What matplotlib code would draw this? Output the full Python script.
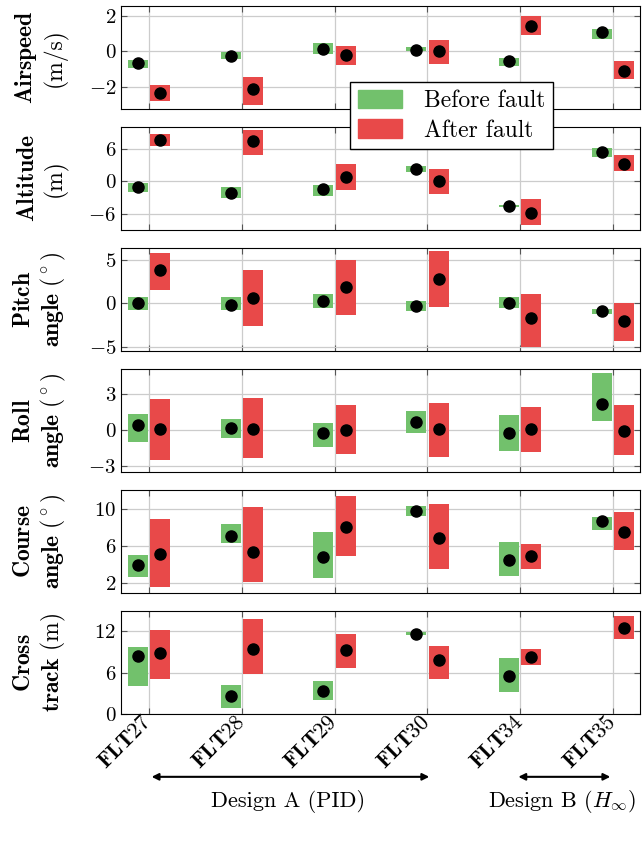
import numpy as np
import matplotlib
matplotlib.use('Agg')
import matplotlib.pyplot as plt
from matplotlib.patches import Patch

plt.rcParams['font.family'] = 'serif'
plt.rcParams['font.serif'] = ['cmr10']
plt.rcParams['mathtext.fontset'] = 'cm'
plt.rcParams['axes.formatter.use_mathtext'] = True
plt.rcParams['axes.unicode_minus'] = True

flights = ['FLT27', 'FLT28', 'FLT29', 'FLT30', 'FLT34', 'FLT35']

# each: [low, high, mean] per flight
airspeed_before = [[-0.93, -0.41, -0.13, 0.0, -0.80, 0.69],
                   [-0.46, -0.04, 0.48, 0.22, -0.35, 1.24],
                   [-0.65, -0.26, 0.15, 0.09, -0.56, 1.07]]
airspeed_after = [[-2.76, -3.02, -0.76, -0.69, 0.91, -1.52],
                  [-1.89, -1.43, 0.30, 0.65, 2.0, -0.56],
                  [-2.35, -2.11, -0.19, 0.04, 1.43, -1.07]]

altitude_before = [[-1.97, -3.14, -2.77, 1.78, -4.7, 4.5],
                   [-0.31, -1.05, -0.6, 2.83, -4.4, 6.25],
                   [-1.05, -2.2, -1.4, 2.34, -4.55, 5.5]]
altitude_after = [[6.52, 5.0, -1.66, -2.4, -8.06, 1.9],
                  [8.92, 9.6, 3.26, 2.4, -3.3, 5.0],
                  [7.8, 7.6, 0.86, 0.06, -5.8, 3.2]]

pitch_before = [[-0.76, -0.76, -0.57, -0.88, -0.53, -1.26],
                [0.73, 0.73, 1.07, 0.3, 0.69, -0.69],
                [0.0, -0.15, 0.34, -0.3, 0.08, -0.92]]
pitch_after = [[1.56, -2.56, -1.34, -0.38, -5.0, -4.35],
               [5.76, 3.82, 5.0, 6.07, 1.07, 0.11],
               [3.85, 0.65, 1.9, 2.82, -1.72, -2.02]]

roll_before = [[-0.96, -0.66, -1.38, -0.28, -1.76, 0.77],
               [1.35, 0.94, 0.63, 1.57, 1.29, 4.79],
               [0.41, 0.14, -0.28, 0.69, -0.22, 2.2]]
roll_after = [[-2.5, -2.31, -2.01, -2.26, -1.85, -2.09],
              [2.56, 2.64, 2.09, 2.26, 1.9, 2.12],
              [0.06, 0.08, -0.03, 0.08, 0.08, -0.06]]

course_before = [[2.64, 6.32, 2.53, 9.26, 2.81, 7.75],
                 [5.04, 8.37, 7.49, 10.25, 6.39, 9.1],
                 [3.95, 7.1, 4.8, 9.8, 4.55, 8.7]]
course_after = [[1.6, 2.1, 4.95, 3.54, 3.5, 5.57],
                [8.9, 10.2, 11.4, 10.5, 6.2, 9.7],
                [5.2, 5.4, 8.05, 6.87, 4.9, 7.5]]

cross_before = [[4.06, 0.87, 2.08, 11.47, 3.15, np.nan],
                [9.68, 4.26, 4.84, 11.85, 8.08, np.nan],
                [8.47, 2.6, 3.34, 11.56, 5.47, np.nan]]
cross_after = [[5.1, 5.8, 6.68, 5.13, 7.05, 10.94],
               [12.2, 13.8, 11.6, 9.87, 9.37, 14.23],
               [8.85, 9.4, 9.3, 7.8, 8.27, 12.5]]

labels = [r'$\mathbf{Airspeed}$' + '\n(m/s)',
          r'$\mathbf{Altitude}$' + '\n(m)',
          r'$\mathbf{Pitch}$' + '\n' + r'$\mathbf{angle}\ (^\circ)$',
          r'$\mathbf{Roll}$' + '\n' + r'$\mathbf{angle}\ (^\circ)$',
          r'$\mathbf{Course}$' + '\n' + r'$\mathbf{angle}\ (^\circ)$',
          r'$\mathbf{Cross}$' + '\n' + r'$\mathbf{track}$ (m)']
ylims = [(-3.22, 2.54), (-9.05, 10.15), (-5.46, 6.37), (-3.5, 5.1), (0.97, 12.02), (0, 14.95)]
yticks = [[-2, 0, 2], [-6, 0, 6], [-5, 0, 5], [-3, 0, 3], [2, 6, 10], [0, 6, 12]]
before = [airspeed_before, altitude_before, pitch_before, roll_before, course_before, cross_before]
after = [airspeed_after, altitude_after, pitch_after, roll_after, course_after, cross_after]

green = '#72c16c'
red = '#e84949'
x = np.arange(len(flights))

fig = plt.figure(figsize=(6.43, 8.41), dpi=100)
W, H = 643, 841
axes = []
for i in range(6):
    top = 6 + 121 * i
    ax = fig.add_axes([121 / W, 1 - (top + 103) / H, 519 / W, 103 / H])
    axes.append(ax)
    for d, off, col in [(before[i], -0.12, green), (after[i], 0.12, red)]:
        lo, hi, mean = (np.array(v, dtype=float) for v in d)
        ok = ~np.isnan(lo)
        ax.bar(x[ok] + off, (hi - lo)[ok], bottom=lo[ok], width=0.215, color=col, zorder=2)
        ax.plot(x[ok] + off, mean[ok], 'o', color='black', ms=8, zorder=3)
    ax.set_xlim(-0.3, 5.29)
    ax.set_ylim(*ylims[i])
    ax.set_yticks(yticks[i])
    ax.set_xticks(x)
    ax.grid(True, color='#cccccc', lw=0.9, zorder=0)
    ax.tick_params(direction='in', top=True, right=True, length=4, color='#555555',
                   labelsize=15)
    ax.set_ylabel(labels[i], fontsize=17, linespacing=1.2)
    ax.yaxis.set_label_coords(-0.102, 0.5)
    if i < 5:
        ax.set_xticklabels([])
    else:
        ax.set_xticklabels([r'$\mathbf{' + f + '}$' for f in flights], rotation=45,
                           ha='right', va='center', rotation_mode='anchor', fontsize=16)

fig.legend(handles=[Patch(color=green, label='Before fault'), Patch(color=red, label='After fault')],
           loc='upper left', bbox_to_anchor=(350 / W, 1 - 82 / H), borderaxespad=0, fontsize=17,
           fancybox=False, edgecolor='black', framealpha=1, handlelength=1.9, handleheight=0.85,
           borderpad=0.32, labelspacing=0.3, handletextpad=0.9)

bot = axes[-1]
tr = bot.get_xaxis_transform()
bot.annotate('', xy=(0, -0.61), xytext=(3.05, -0.61), xycoords=tr, textcoords=tr,
             arrowprops=dict(arrowstyle='<|-|>', color='black', lw=1.5), annotation_clip=False)
bot.annotate('', xy=(3.95, -0.61), xytext=(5.0, -0.61), xycoords=tr, textcoords=tr,
             arrowprops=dict(arrowstyle='<|-|>', color='black', lw=1.5), annotation_clip=False)
bot.text(1.5, -0.845, 'Design A (PID)', transform=tr, ha='center', va='center', fontsize=16)
bot.text(4.45, -0.845, r'Design B ($H_\infty$)', transform=tr, ha='center', va='center', fontsize=16)

fig.savefig('out.png', dpi=100)
